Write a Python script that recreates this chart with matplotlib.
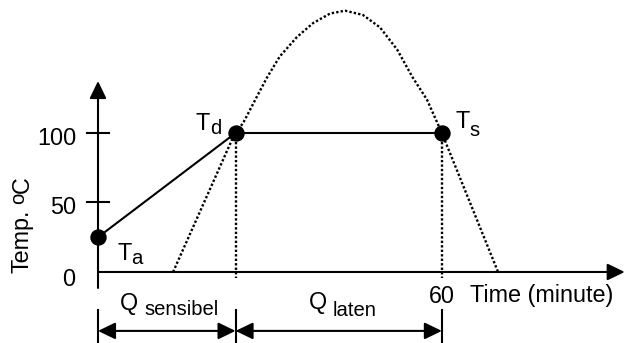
import matplotlib.pyplot as plt

plt.rcParams['font.family'] = ['Liberation Sans', 'DejaVu Sans']

# points on the heating line: T_a, T_d, T_s
point_sub = ['a', 'd', 's']
point_time = [0, 24, 60]
point_temp = [25, 100, 100]

# dotted guide curve
curve_time = [13.1, 23.9, 25.3, 27.7, 29.5, 31.7, 34.7, 37.5, 40.5, 43.1,
              46.2, 49.2, 52.2, 54.9, 57.4, 60.0, 69.8]
curve_temp = [0, 100, 107, 126, 140, 155, 169, 179, 186, 188,
              185, 176, 160, 140, 124, 100, 0]

ytick_vals = [50, 100]
xtick_vals = [60]
heat_labels = ['sensibel', 'laten']

W, H = 627, 343
fig = plt.figure(figsize=(W / 100, H / 100), dpi=100)
ax = fig.add_axes([0, 0, 1, 1])
ax.set_xlim(-17.1, 92.3)
ax.set_ylim(-51.1, 195.7)
ax.axis('off')

BIG = 16.8
SMALL = 14.6
DOTS = (0, (1, 0.9))


def arrow(x0, y0, x1, y1, style='-|>'):
    ax.annotate('', xy=(x1, y1), xytext=(x0, y0),
                arrowprops=dict(arrowstyle=style + ',head_length=0.62,head_width=0.3',
                                mutation_scale=17, lw=1.5, color='black',
                                shrinkA=0, shrinkB=0))


def put(x, y, s, size=BIG, **kw):
    # place text by pixel position in the picture
    fig.text(x / W, 1 - y / H, s, fontsize=size, **kw)


# axes with arrows
arrow(0, -11.5, 0, 137.4)
arrow(0, 0, 91.9, 0)

# y ticks
for v in ytick_vals:
    ax.plot([-2, 2], [v, v], color='black', lw=1.5)
    ax.annotate(str(v), (0, v), xytext=(-22, -12), textcoords='offset pixels',
                ha='right', va='baseline', fontsize=BIG)
ax.annotate('0', (0, 0), xytext=(-23, -14), textcoords='offset pixels',
            ha='right', va='baseline', fontsize=BIG)

# x tick label
for v in xtick_vals:
    ax.annotate(str(v), (v, 0), xytext=(0, -31), textcoords='offset pixels',
                ha='center', va='baseline', fontsize=BIG)
put(470, 302, 'Time (minute)')

# y label
put(28.5, 273, 'Temp.', rotation=90, rotation_mode='anchor')
put(24.5, 204, 'o', SMALL, rotation=90, rotation_mode='anchor')
put(28.5, 193, 'C', rotation=90, rotation_mode='anchor')

# dotted curve and drop lines
ax.plot(curve_time, curve_temp, color='black', lw=1.7, linestyle=DOTS)
for t, T in zip(point_time[1:], point_temp[1:]):
    ax.plot([t, t], [T, -4], color='black', lw=1.7, linestyle=DOTS)

# heating line and points
ax.plot(point_time, point_temp, color='black', lw=1.5)
ax.plot(point_time, point_temp, 'o', color='black', ms=10.8, zorder=5)

# point labels
put(117, 260, 'T'); put(131, 264, 'a', SMALL)
put(196, 130, 'T'); put(210, 134, 'd', SMALL)
put(456, 128, 'T'); put(469, 136, 's', SMALL)

# heat bands below the axis
for t in point_time:
    ax.plot([t, t], [-27.3, -51.1], color='black', lw=1.5)
for i in range(len(point_time) - 1):
    arrow(point_time[i], -42.4, point_time[i + 1], -42.4, style='<|-|>')

put(120, 310, 'Q'); put(144, 315, heat_labels[0], SMALL)
put(309, 309, 'Q'); put(333, 316, heat_labels[1], SMALL)

fig.savefig('out.png', dpi=100)
